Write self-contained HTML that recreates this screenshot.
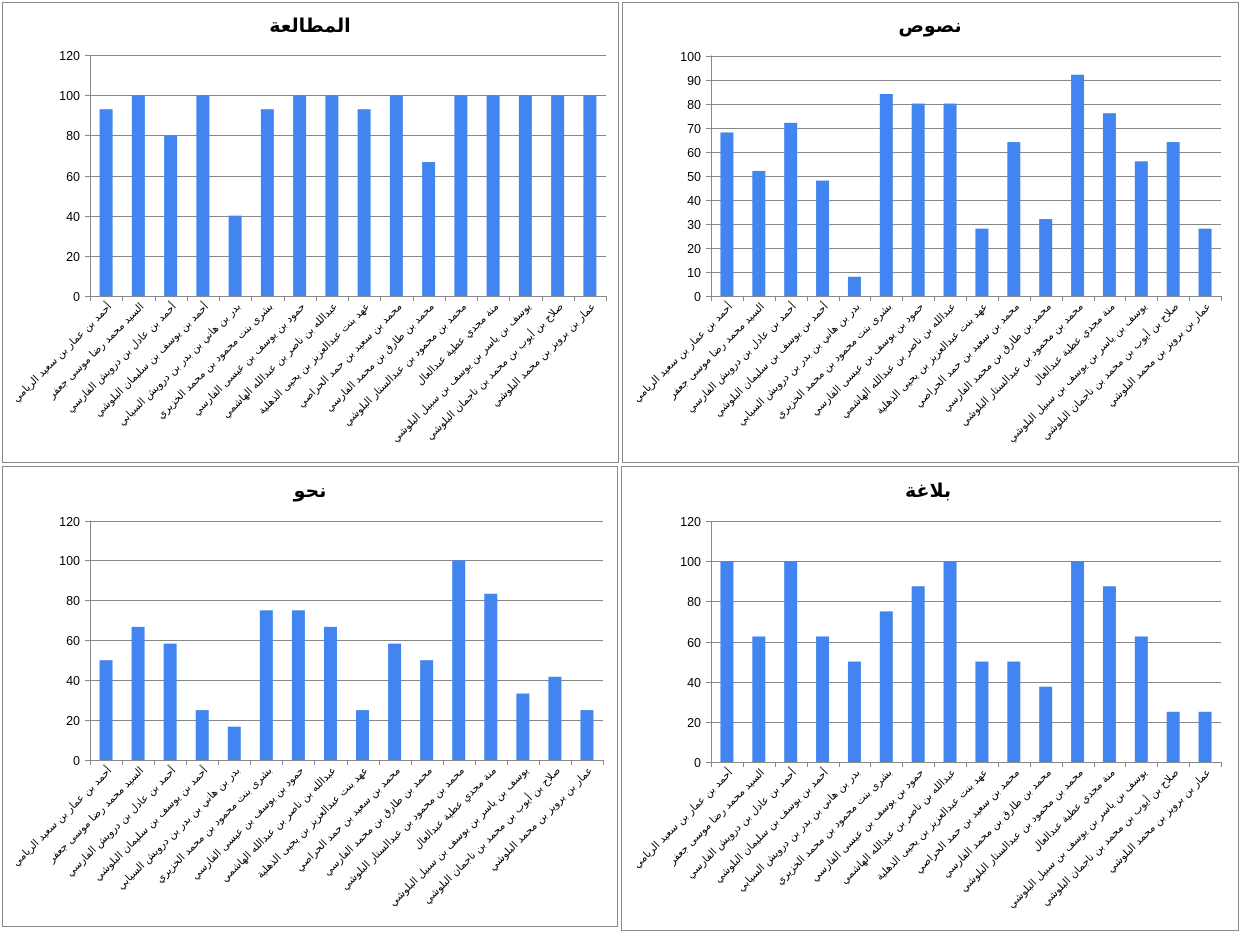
<!DOCTYPE html>
<html><head><meta charset="utf-8">
<style>
html,body{margin:0;padding:0;background:#fff;width:1245px;height:938px;overflow:hidden}
svg{position:absolute;left:0;top:0}
</style></head>
<body>
<svg id="s" width="1245" height="938" xmlns="http://www.w3.org/2000/svg" font-family="'Liberation Sans','DejaVu Sans',sans-serif"></svg>
<script>
const names=["أحمد بن عمار بن سعيد الريامي","السيد محمد رضا موسى جعفر","أحمد بن عادل بن درويش الفارسي","أحمد بن يوسف بن سليمان البلوشي","بدر بن هاني بن بدر بن درويش السيابي","بشرى بنت محمود بن محمد الخزيري","حمود بن يوسف بن عيسى الفارسي","عبدالله بن ناصر بن عبدالله الهاشمي","عهد بنت عبدالعزيز بن يحيى الذهلية","محمد بن سعيد بن حمد الحراصي","محمد بن طارق بن محمد الفارسي","محمد بن محمود بن عبدالستار البلوشي","منة مجدي عطية عبدالعال","يوسف بن ياسر بن يوسف بن سبيل البلوشي","صلاح بن أيوب بن محمد بن ناجمان البلوشي","عمار بن برويز بن محمد البلوشي"];
const charts=[
{px:2,py:2,pw:616,ph:460,title:"المطالعة",tx:310,ty:32,x0:90,x1:606,yt:55,yb:296,max:120,step:20,
 v:[93,100,80,100,40,93,100,100,93,100,66.7,100,100,100,100,100]},
{px:622,py:2,pw:616,ph:460,title:"نصوص",tx:930,ty:32,x0:711,x1:1221,yt:55.5,yb:296,max:100,step:10,
 v:[68,52,72,48,8,84,80,80,28,64,32,92,76,56,64,28]},
{px:2,py:466,pw:615,ph:460,title:"نحو",tx:310,ty:497,x0:90,x1:603,yt:520.5,yb:760,max:120,step:20,
 v:[50,66.7,58.3,25,16.7,75,75,66.7,25,58.3,50,100,83.3,33.3,41.7,25]},
{px:621,py:466,pw:617,ph:464,title:"بلاغة",tx:928,ty:497,x0:711,x1:1221,yt:521,yb:762,max:120,step:20,
 v:[100,62.5,100,62.5,50,75,87.5,100,50,50,37.5,100,87.5,62.5,25,25]}];
let h='';
for(const c of charts){
 h+=`<rect x="${c.px+0.5}" y="${c.py+0.5}" width="${c.pw}" height="${c.ph}" fill="#fff" stroke="#8a8a8a" stroke-width="1"/>`;
 h+=`<text x="${c.tx}" y="${c.ty}" text-anchor="middle" font-size="19" font-weight="bold" font-family="'DejaVu Sans',sans-serif">${c.title}</text>`;
 const n=c.max/c.step;
 for(let i=0;i<=n;i++){
  const y=Math.round(c.yb-(c.yb-c.yt)*i/n)+0.5;
  h+=`<line x1="${c.x0-5}" x2="${c.x1}" y1="${y}" y2="${y}" stroke="#888" stroke-width="1"/>`;
  h+=`<text x="${c.x0-10}" y="${y+4.5}" text-anchor="end" font-size="12.5">${i*c.step}</text>`;
 }
 h+=`<line x1="${c.x0+0.5}" x2="${c.x0+0.5}" y1="${c.yt}" y2="${c.yb+5}" stroke="#888"/>`;
 const cw=(c.x1-c.x0)/16;
 for(let i=0;i<=16;i++){const x=Math.round(c.x0+cw*i)+0.5;h+=`<line x1="${x}" x2="${x}" y1="${c.yb}" y2="${c.yb+5}" stroke="#888"/>`;}
 c.v.forEach((v,i)=>{
  const cx=c.x0+cw*(i+0.5),bw=13;
  const top=c.yb-(c.yb-c.yt)*v/c.max;
  h+=`<rect x="${cx-bw/2}" y="${top}" width="${bw}" height="${c.yb-top}" fill="#4285f0"/>`;
  const ax=cx+6,ay=c.yb+11;
  h+=`<text x="${ax}" y="${ay}" text-anchor="end" font-size="10.5" font-family="'DejaVu Sans',sans-serif" transform="rotate(-45 ${ax} ${ay})">${names[i]}</text>`;
 });
}
document.getElementById('s').innerHTML=h;
</script>
</body></html>
